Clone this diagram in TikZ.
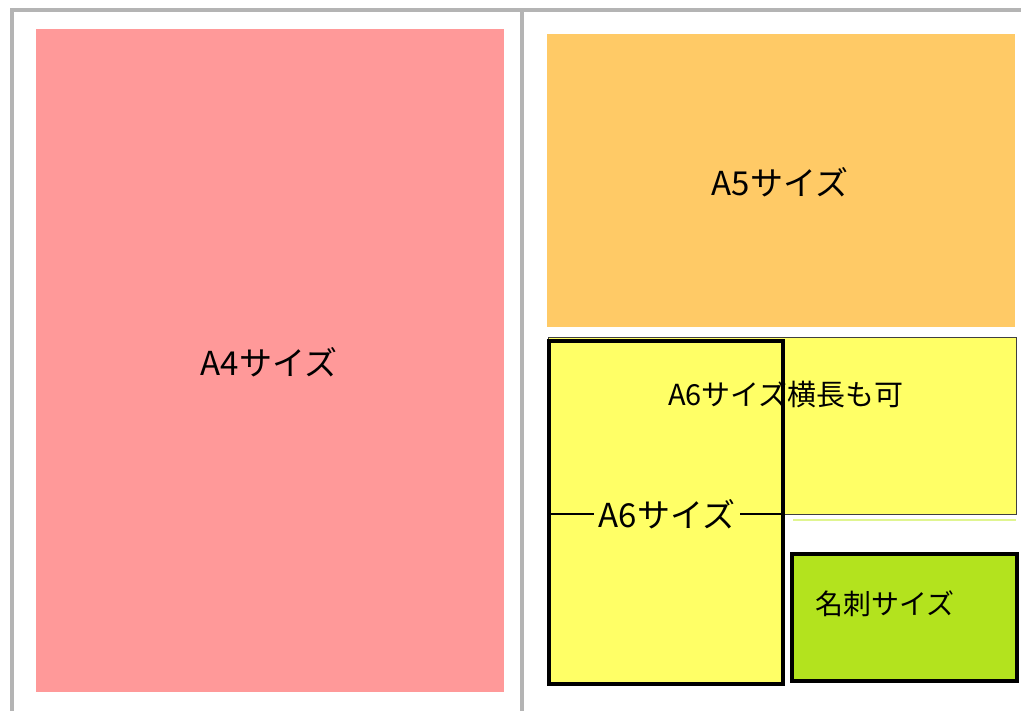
\documentclass[tikz,border=0pt]{standalone}
\usepackage{fontspec}
\newfontfamily\jp{Noto Sans CJK JP}
\definecolor{framegray}{HTML}{B4B4B4}
\definecolor{a4pink}{HTML}{FF9999}
\definecolor{a5orange}{HTML}{FFCA66}
\definecolor{a6yellow}{HTML}{FFFF66}
\definecolor{cardgreen}{HTML}{B3E31E}
\definecolor{lightgreen}{HTML}{E0F590}
\tikzset{
  lbl/.style={font=\jp\fontsize{33}{35}\selectfont, inner sep=1pt},
  thickbox/.style={draw=black, line width=3.5pt},
  thinbox/.style={draw=black!75, line width=1pt},
}
\begin{document}
\begin{tikzpicture}[x=1pt,y=-1pt]
\useasboundingbox (0,0) rectangle (1021,711);
\fill[white] (0,0) rectangle (1021,711);
% frame
\draw[framegray, line width=3.5pt] (12,713) -- (12,10) -- (1023,10);
\draw[framegray, line width=3.5pt] (522,10) -- (522,713);
% A4
\fill[a4pink] (36,29) rectangle (504,692);
\node[lbl] (a4) at (269,362) {A4サイズ};
% A5
\fill[a5orange] (547,34) rectangle (1015,327);
\node[lbl] (a5) at (780,182) {A5サイズ};
% A6 landscape
\draw[thinbox, fill=a6yellow] (548,338) rectangle (1016,514);
\draw[lightgreen, line width=1.5pt] (793,520) -- (1016,520);
% A6 portrait
\draw[thickbox, fill=a6yellow] (549,341) rectangle (783,684);
\coordinate (ml) at (550,514);
\coordinate (mr) at (783,514);
\draw[black, line width=1.2pt] (ml) -- (mr);
\node[lbl, fill=a6yellow, inner xsep=5pt] (a6) at (667,514) {A6サイズ};
\node[font=\jp\fontsize{29}{31}\selectfont, inner sep=0pt] (a6l) at (786,394) {A6サイズ横長も可};
\draw[thickbox] (783,341) -- (783,684);
% card
\draw[thickbox, fill=cardgreen] (792,554) rectangle (1017,681);
\node[font=\jp\fontsize{28}{30}\selectfont] (card) at (885,604) {名刺サイズ};
\end{tikzpicture}
\end{document}
